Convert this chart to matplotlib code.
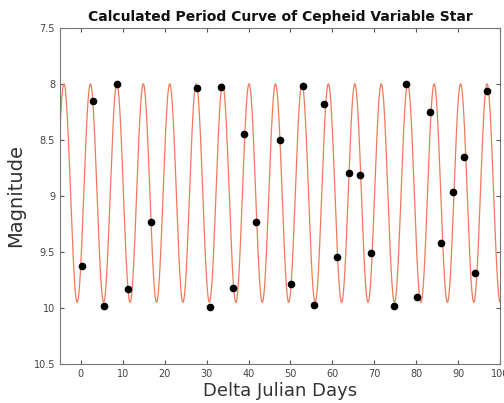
import numpy as np
import matplotlib
matplotlib.use("Agg")
import matplotlib.pyplot as plt

days = [0.2, 2.9, 5.6, 8.6, 11.3, 16.7, 27.8, 30.7, 33.4, 36.3, 39.0, 41.8,
        47.4, 50.1, 52.9, 55.6, 58.1, 61.0, 63.9, 66.6, 69.3, 74.7, 77.6,
        80.3, 83.2, 86.0, 88.7, 91.3, 94.0, 96.8]
mags = [9.63, 8.15, 9.98, 8.00, 9.83, 9.23, 8.04, 9.99, 8.03, 9.82, 8.45, 9.23,
        8.50, 9.79, 8.02, 9.97, 8.18, 9.55, 8.80, 8.81, 9.51, 9.98, 8.00,
        9.90, 8.25, 9.42, 8.97, 8.65, 9.69, 8.06]

# Fitted period curve parameters
period = 6.31      # days
mean_mag = 8.975
amplitude = 0.975
t_peak = -4.05     # time of maximum brightness

t = np.linspace(-5, 100, 3000)
curve = mean_mag - amplitude * np.cos(2 * np.pi * (t - t_peak) / period)

fig = plt.figure(figsize=(5.04, 4.03), dpi=100)
ax = fig.add_axes([0.119, 0.097, 0.873, 0.834])

ax.plot(t, curve, color='#f07a5a', linewidth=0.9)
ax.plot(days, mags, 'o', color='black', markersize=4.5)

ax.set_xlim(-5, 100)
ax.set_ylim(10.5, 7.5)
ax.set_xticks(range(0, 101, 10))
ax.set_yticks([7.5, 8, 8.5, 9, 9.5, 10, 10.5])
ax.set_yticklabels(['7.5', '8', '8.5', '9', '9.5', '10', '10.5'])

ax.tick_params(direction='in', top=True, right=True, length=3,
               labelsize=7, colors='#555555', labelcolor='#444444')
for s in ax.spines.values():
    s.set_color('#777777')
    s.set_linewidth(0.8)

ax.set_title('Calculated Period Curve of Cepheid Variable Star',
             fontsize=10, fontweight='bold', pad=5, color='#111111')
ax.set_xlabel('Delta Julian Days', fontsize=13, color='#333333', labelpad=2)
ax.set_ylabel('Magnitude', fontsize=14, color='#333333', labelpad=6)

fig.savefig('out.png', dpi=100)
